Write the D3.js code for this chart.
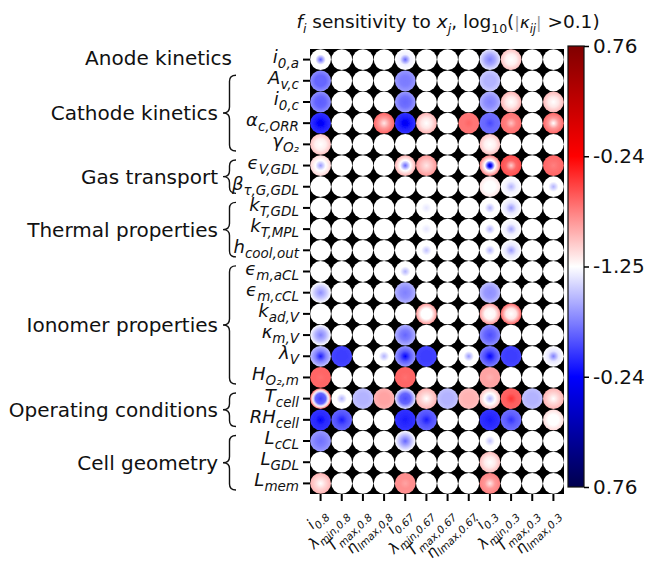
<!DOCTYPE html>
<html>
<head>
<meta charset="utf-8">
<script src="https://cdn.jsdelivr.net/npm/d3@7"></script>
<style>
	body { margin: 0; background: #fff; }
	text { font-family: 'DejaVu Sans', sans-serif; fill: #111; }
</style>
</head>
<body>
<svg></svg>
<script>
// row labels as [symbol, subscript]
const rowLabels = [
	['i', '0,a'], ['A', 'v,c'], ['i', '0,c'], ['α', 'c,ORR'], ['γ', 'O₂'],
	['ϵ', 'V,GDL'], ['β', 'τ,G,GDL'], ['k', 'T,GDL'], ['k', 'T,MPL'], ['h', 'cool,out'],
	['ϵ', 'm,aCL'], ['ϵ', 'm,cCL'], ['k', 'ad,V'], ['κ', 'm,V'], ['λ', 'V'],
	['H', 'O₂,m'], ['T', 'cell'], ['RH', 'cell'], ['L', 'cCL'], ['L', 'GDL'], ['L', 'mem']
];

const colLabels = [
	['i', '0.8'], ['λ', 'min,0.8'], ['T', 'max,0.8'], ['η', 'lmax,0.8'],
	['i', '0.67'], ['λ', 'min,0.67'], ['T', 'max,0.67'], ['η', 'lmax,0.67'],
	['i', '0.3'], ['λ', 'min,0.3'], ['T', 'max,0.3'], ['η', 'lmax,0.3']
];

// [label, first row, last row, brace]
const groups = [
	['Anode kinetics', 0, 0, false],
	['Cathode kinetics', 1, 4, true],
	['Gas transport', 5, 6, true],
	['Thermal properties', 7, 9, true],
	['Ionomer properties', 10, 15, true],
	['Operating conditions', 16, 17, true],
	['Cell geometry', 18, 20, true]
];

const colorbarTicks = [-1, -0.5, 0, 0.5, 1];
const colorbarLabels = ['0.76', '-0.24', '-1.25', '-0.24', '0.76'];

// each cell: 0 = white, or [centre, half radius, edge] on the signed colour scale (-1..1)
const cells = [
	[[-0.32,0,0],0,0,0,[-0.3,-0.03,0],0,0,0,[-0.25,-0.17,-0.05],[0,0.03,0.12],0,0],
	[[-0.3,-0.3,-0.22],0,0,0,[-0.26,-0.25,-0.2],0,0,0,[-0.15,-0.15,-0.1],0,0,0],
	[[-0.32,-0.3,-0.22],0,0,0,[-0.3,-0.28,-0.2],0,0,0,[-0.25,-0.22,-0.15],[0,0.05,0.15],0,[0,0.05,0.14]],
	[[-0.55,-0.45,-0.4],0,0,[0.05,0.2,0.3],[-0.55,-0.45,-0.4],[0,0.05,0.15],0,[0.3,0.27,0.27],[-0.36,-0.3,-0.28],[0.12,0.25,0.28],0,[0,0.2,0.3]],
	[[0,0.03,0.12],0,0,0,0,0,0,0,[0,0.03,0.12],0,0,0],
	[[-0.2,0,0.08],0,0,0,[-0.3,0,0.15],[0.05,0.12,0.2],0,0,[-0.7,0,0.25],[0.1,0.3,0.35],0,[0.25,0.28,0.3]],
	[0,0,0,0,0,0,0,0,[0,0,0.05],[-0.15,-0.03,0],0,[-0.15,0,0]],
	[0,0,0,0,0,[-0.05,0,0],0,0,[-0.15,0,0],[-0.2,-0.05,0],0,0],
	[0,0,0,0,0,[-0.05,0,0],0,0,[-0.15,0,0],[-0.18,-0.03,0],0,0],
	[0,0,0,0,0,[-0.12,0,0],0,0,[-0.15,0,0],[-0.2,-0.05,0],0,0],
	[0,0,0,0,[-0.15,0,0],0,0,0,0,0,0,0],
	[[-0.22,-0.12,0],0,0,0,[-0.25,-0.22,-0.15],0,0,0,[-0.22,-0.2,-0.12],0,0,0],
	[0,0,0,0,0,[0,0,0.2],0,0,[0,0.02,0.2],[0,0.05,0.3],0,0],
	[[-0.25,-0.15,0],0,0,0,[-0.3,-0.25,-0.15],0,0,0,[-0.35,-0.3,-0.22],0,0,0],
	[[-0.45,-0.25,-0.12],[-0.38,-0.38,-0.36],0,[-0.15,0,0],[-0.5,-0.32,-0.2],[-0.38,-0.38,-0.36],0,[-0.2,0,0],[-0.5,-0.35,-0.25],[-0.38,-0.38,-0.36],0,[-0.25,-0.05,0]],
	[[0.28,0.3,0.3],0,0,0,[0.28,0.3,0.3],0,0,0,[0.15,0.18,0.18],0,0,0],
	[[-0.38,-0.3,0.3],[-0.15,0,0],[-0.15,-0.15,-0.12],[0.18,0.18,0.15],[-0.35,-0.3,-0.05],[0,0.08,0.15],[-0.15,-0.15,-0.12],[0.15,0.15,0.13],[-0.15,0,0.12],[0.4,0.32,0.3],[-0.15,-0.15,-0.12],[0,0.08,0.15]],
	[[-0.5,-0.42,-0.4],[-0.45,-0.35,-0.3],0,0,[-0.45,-0.42,-0.4],[-0.45,-0.35,-0.3],0,0,[-0.45,-0.42,-0.4],[-0.4,-0.32,-0.28],0,[0,0,0.07]],
	[[-0.28,-0.25,-0.2],0,0,0,[-0.3,-0.15,0],0,0,0,[-0.12,0,0],0,0,0],
	[0,0,0,0,0,0,0,0,[0,0.04,0.13],0,0,0],
	[[0,0.08,0.15],0,0,0,[0.18,0.22,0.22],0,0,0,[0.05,0.2,0.25],0,0,0]
];

const width = 654;
const height = 561;
const grid = { left: 310, right: 564, top: 49, bottom: 494 };

const svg = d3.select('svg')
	.attr('width', width)
	.attr('height', height);

const defs = svg.append('defs');

// seismic colour map
const color = d3.scaleLinear()
	.domain([-1, -0.5, 0, 0.5, 1])
	.range(['#00004d', '#0000ff', '#ffffff', '#ff0000', '#800000']);

const xScale = d3.scaleBand()
	.domain(d3.range(colLabels.length))
	.range([grid.left, grid.right]);

const yScale = d3.scaleBand()
	.domain(d3.range(rowLabels.length))
	.range([grid.top, grid.bottom]);

// label helper: symbol + subscript
function mathLabel(sel, sym, sub, size, subSize) {
	sel.append('tspan')
		.attr('font-style', 'italic')
		.attr('font-size', size)
		.text(sym);
	sel.append('tspan')
		.attr('font-style', 'italic')
		.attr('font-size', subSize)
		.attr('dy', size * 0.28)
		.text(sub);
}

// black plot background
svg.append('rect')
	.attr('x', grid.left)
	.attr('y', grid.top)
	.attr('width', grid.right - grid.left)
	.attr('height', grid.bottom - grid.top)
	.attr('fill', '#000');

// cells
const cellData = [];
cells.forEach((row, i) => row.forEach((v, j) => {
	cellData.push({ row: i, col: j, v: v === 0 ? [0, 0, 0] : v });
}));

const stopOffsets = d3.range(0, 1.0001, 0.1);
const valueAt = (v, t) => t <= 0.5 ? v[0] + (v[1] - v[0]) * t / 0.5 : v[1] + (v[2] - v[1]) * (t - 0.5) / 0.5;

cellData.forEach((d, k) => {
	const grad = defs.append('radialGradient').attr('id', 'g' + k);
	stopOffsets.forEach(t => {
		grad.append('stop')
			.attr('offset', t)
			.attr('stop-color', color(valueAt(d.v, t)));
	});
});

defs.append('filter').attr('id', 'soft')
	.append('feGaussianBlur').attr('stdDeviation', 0.6);

const r = xScale.bandwidth() / 2 - 0.2;

svg.append('g')
	.attr('filter', 'url(#soft)')
	.selectAll('circle').data(cellData)
	.enter().append('circle')
		.attr('cx', d => xScale(d.col) + xScale.bandwidth() / 2)
		.attr('cy', d => yScale(d.row) + yScale.bandwidth() / 2)
		.attr('r', r)
		.attr('fill', (d, k) => `url(#g${k})`);

// axes ticks
const yAxisG = svg.append('g')
	.attr('transform', `translate(${grid.left},0)`)
	.call(d3.axisLeft(yScale).tickSize(7).tickFormat(''));
yAxisG.select('.domain').remove();
yAxisG.selectAll('line').attr('stroke-width', 2);

const xAxisG = svg.append('g')
	.attr('transform', `translate(0,${grid.bottom})`)
	.call(d3.axisBottom(xScale).tickSize(7).tickFormat(''));
xAxisG.select('.domain').remove();
xAxisG.selectAll('line').attr('stroke-width', 2);

// row labels
svg.append('g').selectAll('text').data(rowLabels)
	.enter().append('text')
		.attr('x', grid.left - 11)
		.attr('y', (d, i) => yScale(i) + yScale.bandwidth() / 2 + 3)
		.attr('text-anchor', 'end')
		.each(function (d) {
			mathLabel(d3.select(this), d[0], d[1], 18, 13.5);
		});

// column labels, rotated 45 degrees, ending just right of each tick
svg.append('g').selectAll('text').data(colLabels)
	.enter().append('text')
		.attr('text-anchor', 'end')
		.attr('transform', (d, i) => `translate(${xScale(i) + xScale.bandwidth() / 2 + 7},${grid.bottom + 21}) rotate(-45)`)
		.each(function (d) {
			mathLabel(d3.select(this), d[0], d[1], 15, 10.5);
		});

// group labels with braces
const braceX = { tip: 223, arm: 236 };
groups.forEach(([label, a, b, brace]) => {
	const top = yScale(a) + 5;
	const bottom = yScale(b) + yScale.bandwidth() - 4;
	const mid = (top + bottom) / 2;
	if (brace) {
		const xm = (braceX.tip + braceX.arm) / 2;
		const q = Math.min(6, (bottom - top) / 5);
		svg.append('path')
			.attr('d', `M${braceX.arm},${top} Q${xm},${top} ${xm},${top + q} L${xm},${mid - q} Q${xm},${mid} ${braceX.tip},${mid} Q${xm},${mid} ${xm},${mid + q} L${xm},${bottom - q} Q${xm},${bottom} ${braceX.arm},${bottom}`)
			.attr('fill', 'none')
			.attr('stroke', '#111')
			.attr('stroke-width', 1.4);
	}
	svg.append('text')
		.attr('x', brace ? 218 : 232)
		.attr('y', brace ? mid : mid - 2)
		.attr('text-anchor', 'end')
		.attr('dominant-baseline', 'central')
		.attr('font-size', 20)
		.text(label);
});

// title
const title = svg.append('text')
	.attr('x', 448)
	.attr('y', 28)
	.attr('text-anchor', 'middle')
	.attr('font-size', 18.5);
title.append('tspan').attr('font-style', 'italic').text('f');
title.append('tspan').attr('font-style', 'italic').attr('font-size', 12.5).attr('dy', 5).text('i');
title.append('tspan').attr('dy', -5).text(' sensitivity to ');
title.append('tspan').attr('font-style', 'italic').text('x');
title.append('tspan').attr('font-style', 'italic').attr('font-size', 12.5).attr('dy', 5).text('j');
title.append('tspan').attr('dy', -5).text(', log');
title.append('tspan').attr('font-size', 12.5).attr('dy', 5).text('10');
title.append('tspan').attr('dy', -5).text('(');
title.append('tspan').attr('fill', '#999').attr('font-size', 16.5).text('|');
title.append('tspan').attr('font-style', 'italic').attr('font-size', 16.5).text('κ');
title.append('tspan').attr('font-style', 'italic').attr('font-size', 11.5).attr('dy', 5).text('ij');
title.append('tspan').attr('fill', '#999').attr('font-size', 16.5).attr('dy', -5).text('|');
title.append('tspan').text(' >0.1)');

// colorbar
const cb = { x: 568, w: 16, top: 46, bottom: 487 };
const cbGrad = defs.append('linearGradient')
	.attr('id', 'cbgrad')
	.attr('x1', 0).attr('y1', 1).attr('x2', 0).attr('y2', 0);
d3.range(-1, 1.0001, 0.05).forEach(v => {
	cbGrad.append('stop')
		.attr('offset', (v + 1) / 2)
		.attr('stop-color', color(v));
});

svg.append('rect')
	.attr('x', cb.x)
	.attr('y', cb.top)
	.attr('width', cb.w)
	.attr('height', cb.bottom - cb.top)
	.attr('fill', 'url(#cbgrad)')
	.attr('stroke', '#111')
	.attr('stroke-width', 1.2);

const cbScale = d3.scaleLinear().domain([-1, 1]).range([cb.bottom, cb.top]);
const cbAxis = svg.append('g')
	.attr('transform', `translate(${cb.x + cb.w},0)`)
	.call(d3.axisRight(cbScale)
		.tickValues(colorbarTicks)
		.tickSize(5)
		.tickPadding(4)
		.tickFormat((d, i) => colorbarLabels[i]));
cbAxis.select('.domain').remove();
cbAxis.selectAll('line').attr('stroke-width', 1.5);
cbAxis.selectAll('text')
	.attr('font-size', 20)
	.attr('font-family', 'DejaVu Sans')
	.attr('fill', '#111');
</script>
</body>
</html>
